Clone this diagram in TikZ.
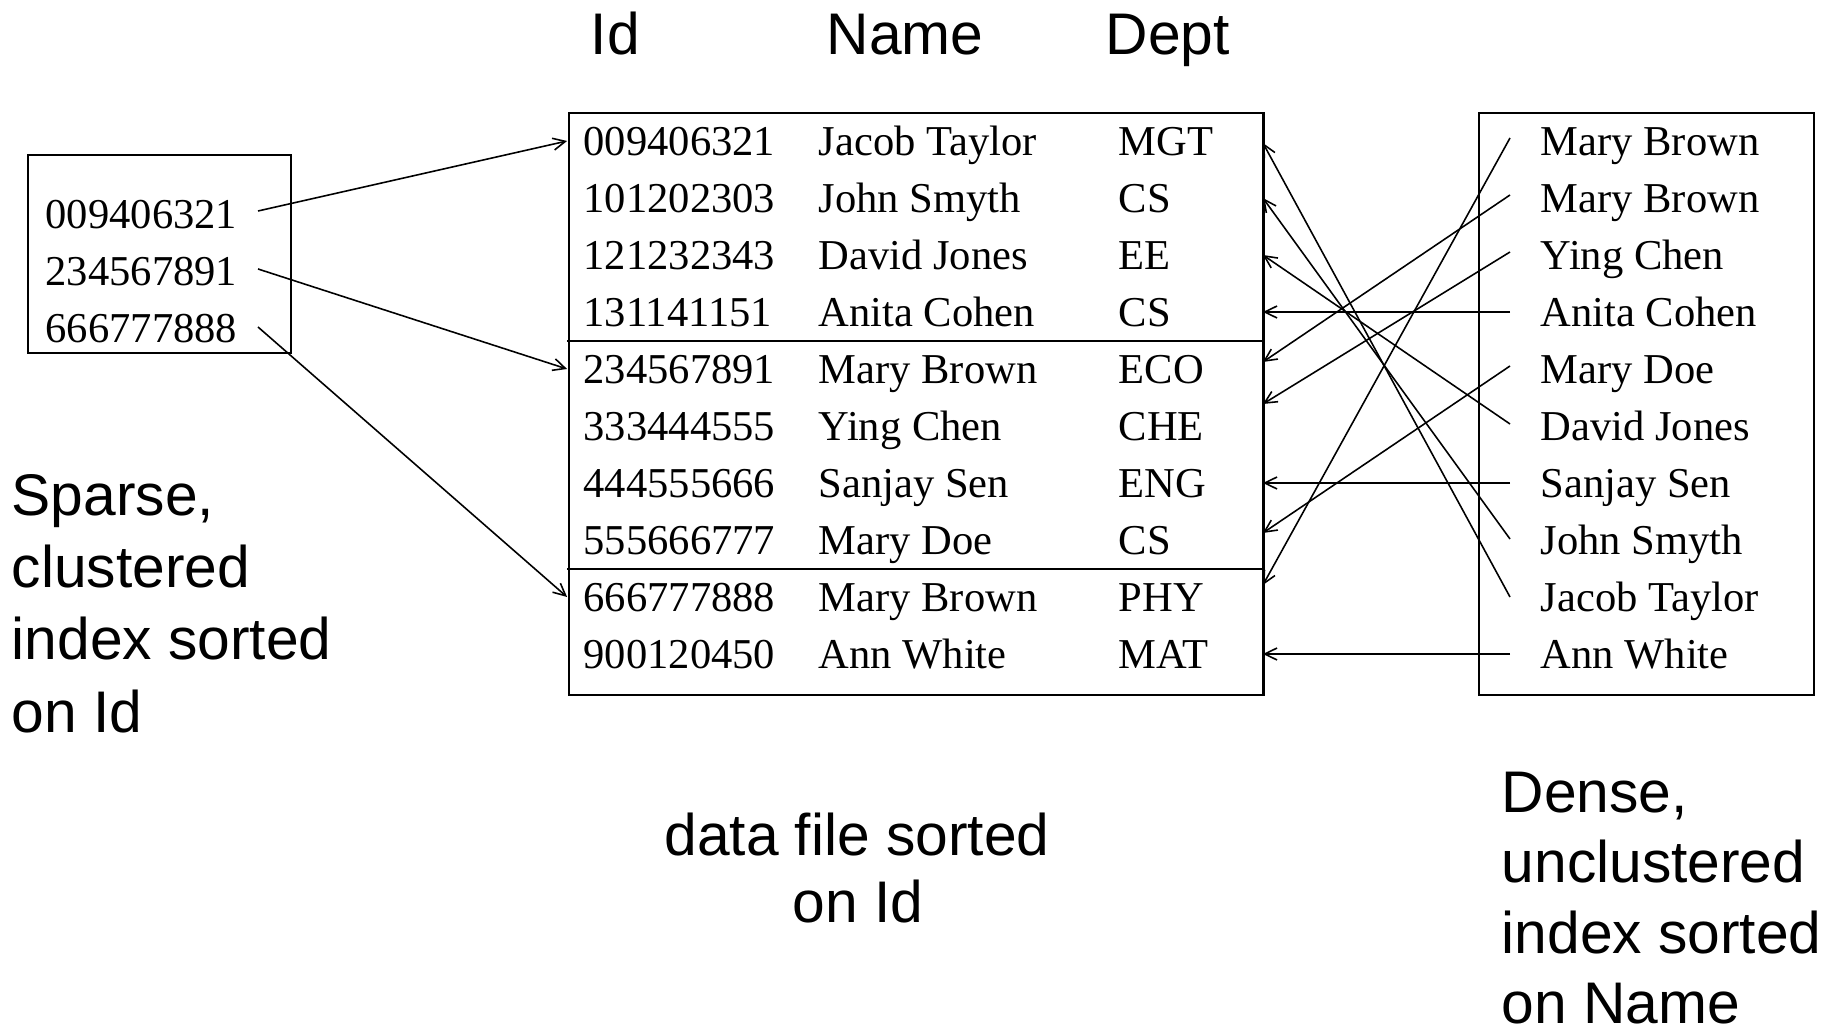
\documentclass[tikz,border=0pt]{standalone}
\usepackage{fontspec}
\setmainfont{Liberation Sans}
\newfontfamily\tabfont{Liberation Serif}
\usetikzlibrary{arrows.meta,calc}
\begin{document}
\begin{tikzpicture}[x=0.01cm,y=-0.01cm,
  frame/.style={draw,line width=0.6pt,inner sep=0pt,anchor=north west},
  rule/.style={line width=0.6pt},
  cell/.style={inner sep=0pt,anchor=base west,font=\tabfont\fontsize{12.1pt}{14pt}\selectfont},
  caption/.style={inner sep=0pt,anchor=base west,font=\fontsize{16.7pt}{20pt}\selectfont},
  slot/.style={inner sep=0pt,minimum width=6.94cm,minimum height=0.57cm},
  ptr/.style={line width=0.45pt,-{Straight Barb[length=3.5pt,width=3.4pt]}}
]
\useasboundingbox (0,0) rectangle (1821,1034);

% column headings
\node[caption] (hId)   at (590,55)  {Id};
\node[caption] (hName) at (826,55)  {Name};
\node[caption] (hDept) at (1105,55) {Dept};

% data file
\node[frame,minimum width=6.94cm,minimum height=5.82cm] (data) at (568,112) {};
\foreach \recid/\recname/\recdept [count=\k] in {
  009406321/Jacob Taylor/MGT,
  101202303/John Smyth/CS,
  121232343/David Jones/EE,
  131141151/Anita Cohen/CS,
  234567891/Mary Brown/ECO,
  333444555/Ying Chen/CHE,
  444555666/Sanjay Sen/ENG,
  555666777/Mary Doe/CS,
  666777888/Mary Brown/PHY,
  900120450/Ann White/MAT} {
  \node[slot] (r\k) at (915,{141+57*(\k-1)}) {};
  \node[cell] (id\k) at (583,{156+57*(\k-1)}) {\recid};
  \node[cell] (nm\k) at (818,{156+57*(\k-1)}) {\recname};
  \node[cell] (dp\k) at (1118,{156+57*(\k-1)}) {\recdept};
}
\draw[rule] (r4.south west) -- (r4.south east);
\draw[rule] (r8.south west) -- (r8.south east);

% sparse index on Id
\node[frame,minimum width=2.63cm,minimum height=1.98cm] (sparse) at (27,154) {};
\foreach \key [count=\k] in {009406321,234567891,666777888} {
  \node[cell] (sk\k) at (45,{229+57*(\k-1)}) {\key};
  \coordinate (ls\k) at (258,{211+58*(\k-1)});
}
\draw[ptr] (ls1) -- (r1.west);
\draw[ptr] (ls2) -- (r5.west);
\draw[ptr] (ls3) -- (r9.west);

% dense index on Name
\node[frame,minimum width=3.35cm,minimum height=5.82cm] (dense) at (1478,112) {};
\foreach \entry/\dy [count=\k] in {Mary Brown/-3,Mary Brown/-3,Ying Chen/-3,Anita Cohen/0,Mary Doe/-3,
  David Jones/-2,Sanjay Sen/0,John Smyth/-1,Jacob Taylor/0,Ann White/0} {
  \node[cell] (dn\k) at (1540,{156+57*(\k-1)}) {\entry};
  \coordinate (rs\k) at (1510,{141+57*(\k-1)+\dy});
}
\draw[ptr] (rs1)  -- ($(r9.east)+(0,-12)$);
\draw[ptr] (rs2)  -- ($(r5.east)+(0,-7)$);
\draw[ptr] (rs3)  -- ($(r6.east)+(0,-22)$);
\draw[ptr] (rs4)  -- (r4.east);
\draw[ptr] (rs5)  -- ($(r8.east)+(0,-7)$);
\draw[ptr] (rs6)  -- (r3.east);
\draw[ptr] (rs7)  -- (r7.east);
\draw[ptr] (rs8)  -- (r2.east);
\draw[ptr] (rs9)  -- ($(r1.east)+(0,2)$);
\draw[ptr] (rs10) -- (r10.east);

% captions
\node[caption] (sp1) at (11,516) {Sparse,};
\node[caption] (sp2) at (11,588) {clustered};
\node[caption] (sp3) at (11,660) {index sorted};
\node[caption] (sp4) at (11,732) {on Id};

\node[caption,anchor=base] (df1) at (857,855) {data file sorted};
\node[caption,anchor=base] (df2) at (858,922) {on Id};

\node[caption] (de1) at (1501,813)  {Dense,};
\node[caption] (de2) at (1501,883)  {unclustered};
\node[caption] (de3) at (1501,953)  {index sorted};
\node[caption] (de4) at (1501,1023) {on Name};
\end{tikzpicture}
\end{document}
